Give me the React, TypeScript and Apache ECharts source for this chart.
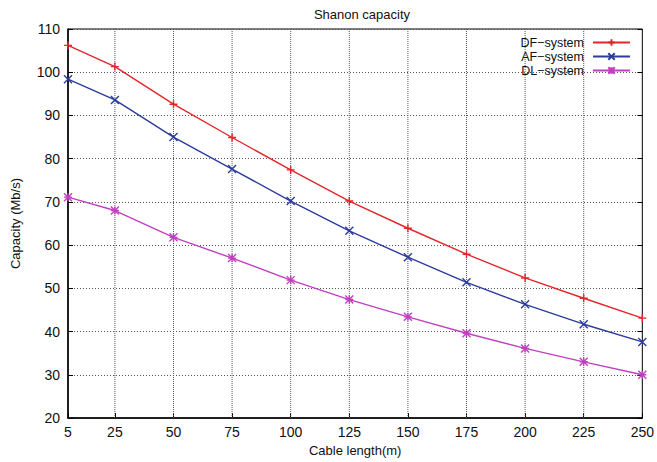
import React, { useEffect, useRef } from "react";
import * as echarts from "echarts";

const xTicks = [5, 25, 50, 75, 100, 125, 150, 175, 200, 225, 250];
const cableLength = [5, 25, 50, 75, 100, 125, 150, 175, 200, 225, 250];
const dfSystem = [106.2, 101.3, 92.6, 84.9, 77.4, 70.2, 63.9, 57.9, 52.4, 47.7, 43.1];
const afSystem = [98.4, 93.6, 85.0, 77.6, 70.2, 63.3, 57.2, 51.4, 46.3, 41.7, 37.6];
const dlSystem = [71.1, 68.0, 61.8, 57.0, 51.9, 47.4, 43.4, 39.6, 36.1, 33.0, 30.0];
const yRange = [20, 110];

const FONT = "'Liberation Sans', Arial, Helvetica, sans-serif";

const plus = "path://M0,5H10M5,0V10";
const cross = "path://M0,0L10,10M10,0L0,10";
const star = "path://M0,0L10,10M10,0L0,10M0,5H10M5,0V10";

export default function App() {
  const ref = useRef<HTMLDivElement>(null);
  useEffect(() => {
    if (!ref.current) return;
    const chart = echarts.init(ref.current, undefined, { renderer: "svg" });
    const mk = (name: string, vals: number[], color: string, symbol: string) => ({
      name,
      type: "line",
      z: 3,
      data: cableLength.map((x, i) => [x, vals[i]]),
      symbol,
      symbolSize: 8,
      showSymbol: true,
      lineStyle: { color, width: 1.4 },
      itemStyle: { color, borderColor: color, borderWidth: 1.4 },
    });
    const gridSeries = xTicks.slice(1, -1).map((v) => ({
      name: "grid" + v,
      type: "line",
      symbol: "none",
      data: [
        [v, yRange[0]],
        [v, yRange[1]],
      ],
      lineStyle: { color: "#555", width: 1, type: "dotted" },
    }));
    chart.setOption({
      animation: false,
      backgroundColor: "#fff",
      textStyle: { fontFamily: FONT },
      title: {
        text: "Shanon capacity",
        left: 357,
        textAlign: "center",
        top: 3,
        textStyle: { fontFamily: FONT, fontSize: 13, fontWeight: "normal", color: "#111" },
      },
      legend: {
        orient: "vertical",
        right: 26,
        top: 36,
        padding: 0,
        align: "right",
        itemWidth: 37,
        itemHeight: 8,
        itemGap: 1,
        textStyle: { fontFamily: FONT, fontSize: 12.5, lineHeight: 12, color: "#111", padding: [0, 4, 0, 0] },
        data: ["DF\u2212system", "AF\u2212system", "DL\u2212system"],
      },
      grid: {
        left: 68,
        right: 11,
        top: 29,
        bottom: 44,
        show: true,
        borderColor: "#000",
        borderWidth: 1,
      },
      xAxis: [
        {
          type: "value",
          min: 5,
          max: 250,
          name: "Cable length(m)",
          nameLocation: "middle",
          nameGap: 25,
          nameTextStyle: { fontFamily: FONT, fontSize: 13, color: "#111" },
          axisLine: { show: true, lineStyle: { color: "#000", width: 1.5 } },
          axisTick: { show: true, inside: true, length: 5, customValues: xTicks, lineStyle: { color: "#000" } },
          axisLabel: { customValues: xTicks, fontFamily: FONT, fontSize: 14, color: "#111", margin: 7 },
          splitLine: { show: false },
        },
      ],
      yAxis: [
        {
          type: "value",
          min: yRange[0],
          max: yRange[1],
          interval: 10,
          name: "Capacity (Mb/s)",
          nameLocation: "middle",
          nameGap: 46,
          nameTextStyle: { fontFamily: FONT, fontSize: 13, color: "#111" },
          axisLine: { show: true, lineStyle: { color: "#000", width: 1.5 } },
          axisTick: { show: true, inside: true, length: 5, lineStyle: { color: "#000" } },
          axisLabel: { fontFamily: FONT, fontSize: 14, color: "#111", margin: 8 },
          splitLine: { show: true, lineStyle: { color: "#555", width: 1, type: [1, 2] } },
        },
        {
          type: "value",
          position: "right",
          min: yRange[0],
          max: yRange[1],
          interval: 10,
          axisLine: { show: false },
          axisTick: { show: true, inside: true, length: 5, lineStyle: { color: "#000" } },
          axisLabel: { show: false },
          splitLine: { show: false },
        },
      ],
      series: [
        ...gridSeries,
        mk("DF\u2212system", dfSystem, "#e3262b", plus),
        mk("AF\u2212system", afSystem, "#2c3c9c", cross),
        mk("DL\u2212system", dlSystem, "#c23fc0", star),
      ],
    });
    return () => chart.dispose();
  }, []);
  return (
    <div
      ref={ref}
      style={{ position: "absolute", left: 0, top: 0, width: 657, height: 462, background: "#fff" }}
    />
  );
}
